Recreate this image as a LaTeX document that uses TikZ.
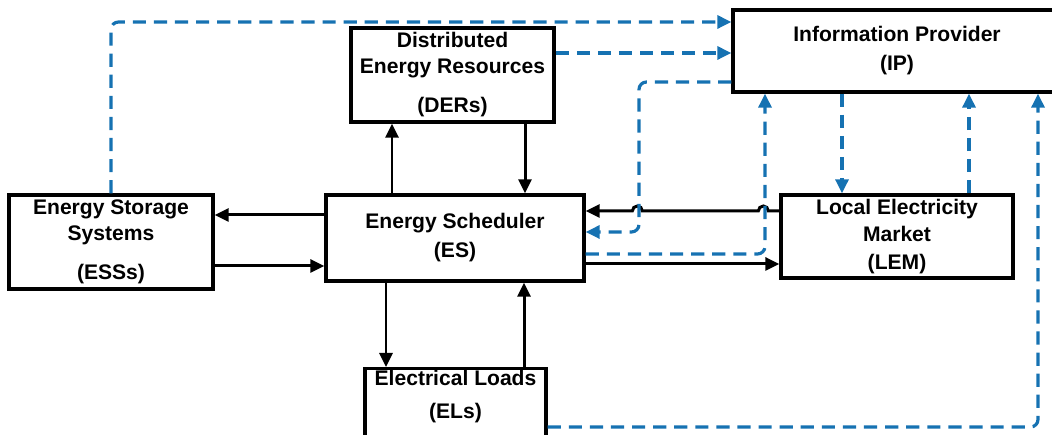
\documentclass[tikz,border=0pt]{standalone}
\usepackage{fontspec}
\setmainfont{Liberation Sans}
\usepackage{tikz}
\usetikzlibrary{calc}
\usetikzlibrary{positioning}
\usetikzlibrary{arrows.meta}
\usepackage{xcolor}
\definecolor{blue}{RGB}{22,114,178}

\begin{document}
\begin{tikzpicture}[
		box/.style = {rectangle, draw=black, fill=white, line width=1.9pt, align=center, inner sep=1pt, font=\bfseries\fontsize{12}{14.5}\selectfont},
		r/.style = {-{Triangle[length=2.8mm,width=2.6mm]}, line width=1.7pt},
		ri/.style = {-{Triangle[length=2.8mm,width=2.6mm]}, draw=blue, line width=1.8pt, dash pattern=on 7.5pt off 4.5pt, rounded corners=1.5mm}
		]
		
		\useasboundingbox (0,0) rectangle (21.04,8.70);
		
		% === === Nodes === ===
		\node[box, minimum width=4.08cm, minimum height=1.88cm]	(ess)	at	(2.22, 3.86)	{Energy Storage\\Systems\\[8pt](ESSs)};
		\node[box, minimum width=5.16cm, minimum height=1.72cm]	(es)	at	(9.10, 3.94)	{Energy Scheduler\\[2pt](ES)};
		\node[box, minimum width=4.06cm, minimum height=1.88cm]	(der)	at	(9.05, 7.20)	{Distributed\\Energy Resources\\[8pt](DERs)};
		\node[box, minimum width=6.56cm, minimum height=1.64cm]	(ip)	at	(17.94, 7.68)	{Information Provider\\[2pt](IP)};
		\node[box, minimum width=4.64cm, minimum height=1.66cm]	(lem)	at	(17.94, 3.97)	{Local Electricity\\[1pt]Market\\[1pt](LEM)};
		\node[box, minimum width=3.62cm, anchor=north, text depth=1.6cm]	(el)	at	(9.11, 1.36)	{Electrical Loads\\[4pt](ELs)};
		
		\coordinate	(dnA)	at	(12.78, 0);
		\coordinate	(upB)	at	(15.30, 0);
		
		
		% === === Lines === ===
		\draw[r]	([yshift=4.6mm]es.west)	--	([yshift=4.6mm]es.west -| ess.east);
		\draw[r]	([yshift=-5.6mm]es.west -| ess.east)	--	([yshift=-5.6mm]es.west);
		\draw[r]	([xshift=-12.6mm]es.north)	--	([xshift=-12.6mm]es.north |- der.south);
		\draw[r]	([xshift=14mm]es.north |- der.south)	--	([xshift=14mm]es.north);
		\draw[r]	([xshift=-13.8mm]es.south)	--	([xshift=-13.8mm]es.south |- el.north);
		\draw[r]	([xshift=13.8mm]es.south |- el.north)	--	([xshift=13.8mm]es.south);
		\draw[r]	([yshift=-5.2mm]es.east)	--	([yshift=-5.2mm]es.east -| lem.west);
		\draw[r]	([yshift=5.1mm]lem.west) coordinate (hop)	-- ++(-0.22,0) arc[start angle=0, end angle=180, radius=0.1]
					-- ++(-2.32,0) arc[start angle=0, end angle=180, radius=0.1]	--	(hop -| es.east);
		
		% information flows
		\draw[ri]	(ess.north)	|-	([yshift=5.8mm]ip.west);
		\draw[ri]	([yshift=4.4mm]der.east)	--	([yshift=4.4mm]der.east -| ip.west);
		\draw[ri]	([yshift=-6.2mm]ip.west)	-|	([yshift=1.2mm]es.east -| dnA)	--	([yshift=1.2mm]es.east);
		\draw[ri]	([yshift=-3.2mm]es.east)	-|	(upB |- ip.south);
		\draw[ri]	([xshift=-11mm]ip.south)	--	([xshift=-11mm]ip.south |- lem.north);
		\draw[ri]	([xshift=14.4mm]ip.south |- lem.north)	--	([xshift=14.4mm]ip.south);
		\draw[ri]	([yshift=-12mm]el.north east)	-|	([xshift=28.2mm]ip.south);
		
	\end{tikzpicture}
\end{document}
